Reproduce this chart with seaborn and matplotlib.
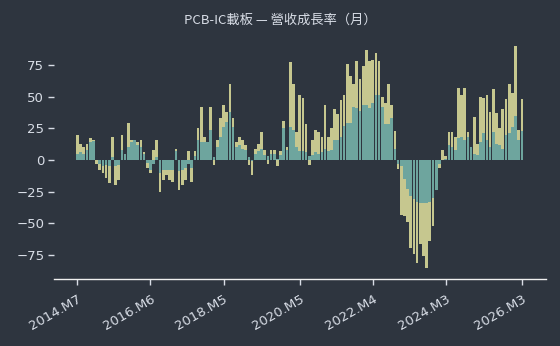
import numpy as np
import pandas as pd
import matplotlib
matplotlib.use("Agg")
import matplotlib.pyplot as plt
import seaborn as sns

# ---- data ----
start_month = "2014-07"
n_months = 141
yoy_monthly = [
    20, 13, 10, 13, 17, 16, -3, -8, -10, -14, -18, 18, -20, -16, 20, 5, 29, 16, 16, 14,
    16, 6, -6, -10, 8, 16, -25, -16, -12, -16, -17, 9, -24, -20, -16, 7, -17, 7, 25, 42,
    18, 14, 42, -4, 16, 33, 43, 38, 60, 33, 14, 18, 16, 12, -4, -12, 9, 13, 22, 8,
    -3, 8, 8, -5, 7, 31, 10, 77, 60, 22, 51, 49, 28, -4, 16, 24, 22, 18, 43, 18,
    25, 40, 36, 47, 51, 76, 66, 60, 78, 64, 74, 87, 78, 79, 84, 78, 50, 45, 60, 43,
    23, -7, -43, -44, -49, -69, -74, -81, -66, -76, -85, -64, -52, -24, -6, 8, 3, 22, 22, 18,
    57, 51, 57, 22, 10, 34, 13, 50, 49, 51, 38, 56, 37, 25, 40, 48, 60, 53, 90, 24,
    48,
]
yoy_cumulative = [
    5, 6, 5, 8, 14, 15, 0, -3, -5, -4, -5, 2, -5, -4, 8, 5, 10, 14, 16, 12,
    10, 5, -2, -8, -3, 2, -10, -8, -8, -8, -8, 7, -9, -8, -6, -3, -6, 3, 16, 14,
    14, 14, 24, 2, 10, 18, 26, 30, 38, 26, 10, 12, 9, 8, 2, -1, 5, 7, 9, 4,
    3, 5, 5, 1, 4, 25, 8, 26, 24, 10, 7, 7, 6, 3, 4, 6, 5, 6, 9, 7,
    8, 16, 16, 18, 27, 29, 29, 42, 41, 39, 43, 43, 41, 45, 51, 51, 42, 28, 28, 33,
    9, -3, -5, -15, -23, -28, -31, -33, -34, -34, -34, -33, -30, -24, -3, 0, 1, 12, 10, 8,
    17, 18, 16, 18, 10, 5, 4, 14, 21, 16, 10, 22, 13, 12, 9, 20, 21, 26, 35, 16,
    23,
]
tick_labels = ["2014.M7", "2016.M6", "2018.M5", "2020.M5", "2022.M4", "2024.M3", "2026.M3"]
title_text = "PCB-IC載板 — 營收成長率（月）"

months = pd.period_range(start=start_month, periods=n_months, freq="M")
month_labels = [f"{p.year}.M{p.month}" for p in months]
df = pd.DataFrame({"month": month_labels, "yellow": yoy_monthly, "teal": yoy_cumulative})

# ---- style ----
bg = "#2e353f"
fg = "#d8dde6"
yellow = "#c6c78f"
teal = "#6ea59e"

sns.set_theme(style="dark")
plt.rcParams["font.family"] = ["Noto Sans CJK TC", "DejaVu Sans"]
plt.rcParams["axes.unicode_minus"] = True

fig = plt.figure(figsize=(5.6, 3.46), dpi=100, facecolor=bg)
ax = fig.add_axes([54 / 560, 1 - 278.7 / 346, (546 - 54) / 560, (278.7 - 38) / 346])
ax.set_facecolor(bg)

sns.barplot(data=df, x="month", y="yellow", color=yellow, width=0.85,
            linewidth=0, saturation=1, ax=ax, order=month_labels)
sns.barplot(data=df, x="month", y="teal", color=teal, width=0.85,
            linewidth=0, saturation=1, ax=ax, order=month_labels)

ax.set_xlim(-7.4, n_months - 1 + 7.6)
ax.set_ylim(-93.6, 96.2)
ax.set_yticks([-75, -50, -25, 0, 25, 50, 75])
ax.set_yticklabels(["\u221275", "\u221250", "\u221225", "0", "25", "50", "75"])
tick_pos = [month_labels.index(t) for t in tick_labels]
ax.set_xticks(tick_pos)
ax.set_xticklabels(tick_labels, rotation=30, ha="right", rotation_mode="anchor")

ax.set_xlabel("")
ax.set_ylabel("")
ax.grid(False)
for s in ["left", "right", "top"]:
    ax.spines[s].set_visible(False)
ax.spines["bottom"].set_visible(True)
ax.spines["bottom"].set_color("#f0f0f0")
ax.spines["bottom"].set_linewidth(1)

ax.tick_params(axis="both", colors=fg, labelcolor=fg, labelsize=9.5,
               direction="out", length=4, width=1, bottom=True, left=True)
ax.tick_params(axis="x", pad=6)
ax.tick_params(axis="y", pad=3)
for lab in ax.get_xticklabels() + ax.get_yticklabels():
    lab.set_family(["DejaVu Sans"])

fig.text(0.5, 1 - 20 / 346, title_text, ha="center", va="center",
         color=fg, fontsize=9.5, family=["Noto Sans CJK TC", "DejaVu Sans"])

fig.savefig("out.png", dpi=100, facecolor=bg)
